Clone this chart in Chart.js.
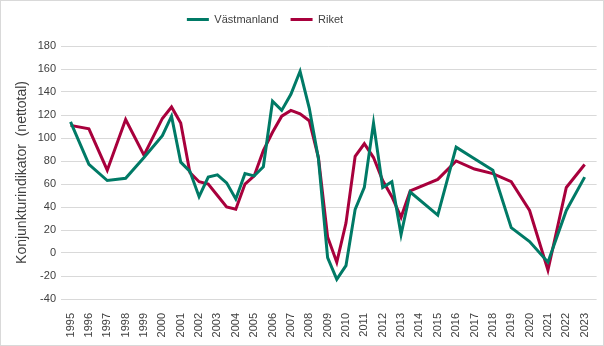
<!DOCTYPE html>
<html>
<head>
<meta charset="utf-8">
<script src="https://cdn.jsdelivr.net/npm/chart.js@4"></script>
<style>
  html, body { margin: 0; padding: 0; background: #fff; }
  #wrap { width: 604px; height: 346px; }
</style>
</head>
<body>
<div id="wrap"><canvas id="konjChart" width="604" height="346"></canvas></div>
<script>
// mätpunkter (år, halvår från 2000 till 2013)
var tidpunkter = [1995, 1996, 1997, 1998, 1999,
    2000, 2000.5, 2001, 2001.5, 2002, 2002.5, 2003, 2003.5, 2004, 2004.5,
    2005, 2005.5, 2006, 2006.5, 2007, 2007.5, 2008, 2008.5, 2009, 2009.5,
    2010, 2010.5, 2011, 2011.5, 2012, 2012.5, 2013, 2013.5,
    2015, 2016, 2017, 2018, 2019, 2020, 2021, 2022, 2023];
var vastmanland = [114, 77, 63, 65, 83,
    102, 119, 79, 71, 49, 66, 68, 61, 47, 69,
    67, 75, 132, 124, 138, 158, 126, 82, -4, -23,
    -11, 38, 57, 113, 57, 62, 16, 53,
    33, 92, 82, 72, 22, 10, -8, 37, 66];
var riket = [111, 108, 72, 116, 85,
    117, 127, 113, 70, 62, 60, 50, 40, 38, 60,
    67, 89, 105, 119, 124, 121, 115, 83, 14, -8,
    26, 84, 95, 83, 63, 49, 31, 54,
    64, 80, 73, 69, 62, 37, -15, 57, 77];
var arEtiketter = [];
for (var ar = 1995; ar <= 2023; ar++) arEtiketter.push(ar);
var yEtiketter = [-40, -20, 0, 20, 40, 60, 80, 100, 120, 140, 160, 180];

var GRON = '#007A66';
var ROD = '#A8003C';
var TEXT = '#404040';
var FONT = "'Liberation Sans', Arial, sans-serif";

var punkter = function (varden) {
    return varden.map(function (v, i) { return { x: tidpunkter[i], y: v }; });
};

// tunn ram runt diagrammet, luft under legenden och legenden lite åt vänster
var ram = {
    id: 'ram',
    beforeInit: function (chart) {
        var fit = chart.legend.fit;
        chart.legend.fit = function () {
            fit.call(this);
            this.height += 11;
        };
    },
    afterLayout: function (chart) {
        chart.legend.left -= 34;
        chart.legend.right -= 34;
    },
    afterDraw: function (chart) {
        var c = chart.ctx;
        c.save();
        c.strokeStyle = '#d9d9d9';
        c.lineWidth = 1;
        c.strokeRect(0.5, 0.5, chart.width - 1, chart.height - 1);
        c.restore();
    }
};

new Chart(document.getElementById('konjChart'), {
    type: 'line',
    data: {
        datasets: [{
            label: 'Västmanland',
            data: punkter(vastmanland),
            borderColor: GRON,
            backgroundColor: GRON,
            borderWidth: 3,
            pointRadius: 0,
            tension: 0
        }, {
            label: 'Riket',
            data: punkter(riket),
            borderColor: ROD,
            backgroundColor: ROD,
            borderWidth: 3,
            pointRadius: 0,
            tension: 0
        }]
    },
    options: {
        responsive: false,
        animation: false,
        layout: { padding: { left: 0, right: 6, top: 2, bottom: 0 } },
        plugins: {
            legend: {
                position: 'top',
                labels: {
                    color: TEXT,
                    font: { family: FONT, size: 11 },
                    boxWidth: 22,
                    boxHeight: 3,
                    padding: 12,
                    generateLabels: function (chart) {
                        return Chart.defaults.plugins.legend.labels.generateLabels(chart).map(function (l) {
                            l.lineWidth = 0;
                            l.fillStyle = l.strokeStyle;
                            return l;
                        });
                    }
                }
            },
            tooltip: { enabled: false }
        },
        scales: {
            x: {
                type: 'linear',
                min: 1994.48,
                max: 2023.65,
                grid: { display: false },
                border: { display: false },
                afterBuildTicks: function (scale) {
                    scale.ticks = arEtiketter.map(function (v) { return { value: v }; });
                },
                afterFit: function (scale) { scale.height = 47; },
                ticks: {
                    autoSkip: false,
                    minRotation: 90,
                    maxRotation: 90,
                    padding: 6,
                    color: TEXT,
                    font: { family: FONT, size: 11 },
                    callback: function (v) { return String(v); }
                }
            },
            y: {
                min: -40,
                max: 180,
                afterBuildTicks: function (scale) {
                    scale.ticks = yEtiketter.map(function (v) { return { value: v }; });
                },
                afterFit: function (scale) { scale.width = 61; },
                grid: { color: '#d9d9d9', lineWidth: 1, drawTicks: false },
                border: { display: false },
                ticks: {
                    padding: 5,
                    color: TEXT,
                    font: { family: FONT, size: 11 }
                },
                title: {
                    display: true,
                    text: 'Konjunkturindikator  (nettotal)',
                    color: TEXT,
                    font: { family: FONT, size: 14 },
                    padding: { top: 14, bottom: 0 }
                }
            }
        }
    },
    plugins: [ram]
});
</script>
</body>
</html>
